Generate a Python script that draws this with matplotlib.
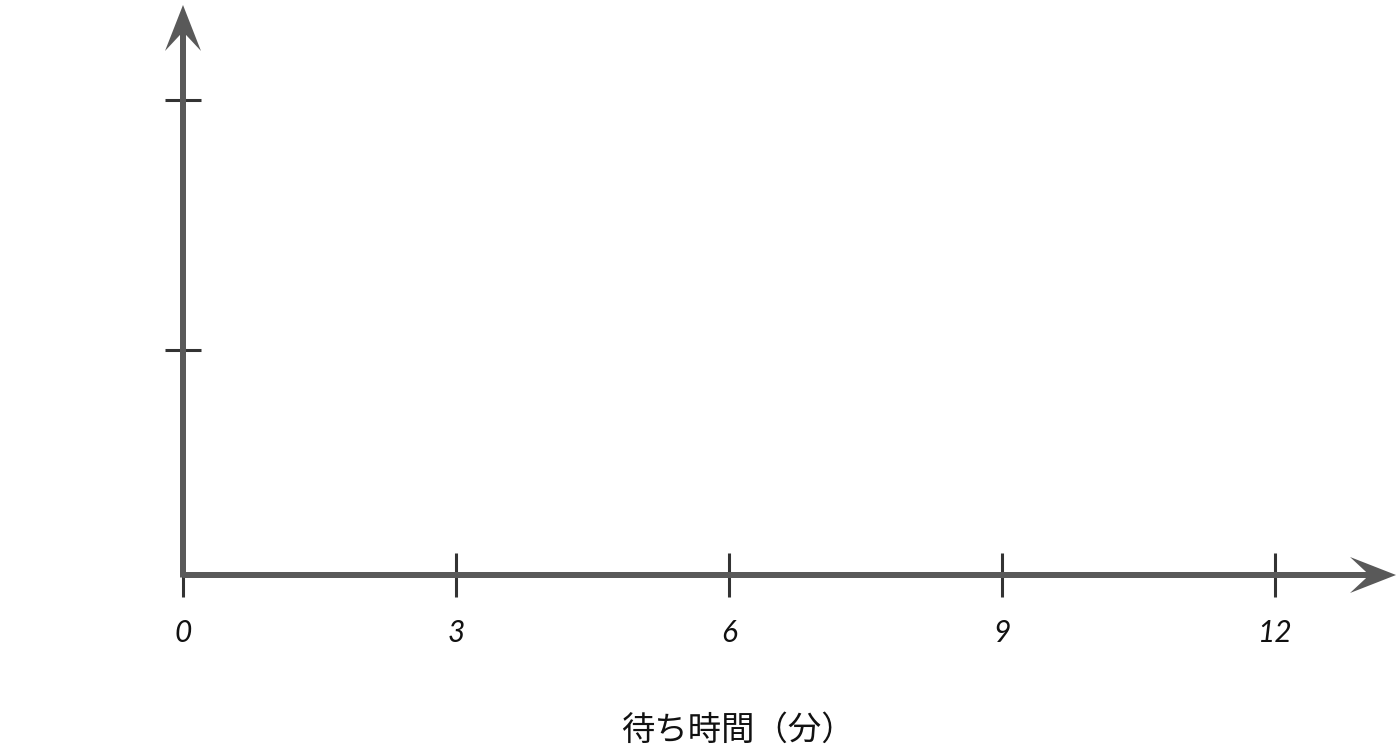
import matplotlib.pyplot as plt

# axis values
x_ticks = [0, 3, 6, 9, 12]
x_tick_labels = ["0", "3", "6", "9", "12"]
y_ticks = [0.9, 1.9]
x_label = "待ち時間（分）"

AXIS_COLOR = "#595959"
TICK_COLOR = "#333333"

fig = plt.figure(figsize=(13.98, 7.52), dpi=100)
ax = fig.add_axes([0, 0, 1, 1])

# 91 px per x unit, 250 px per y unit, origin at (183, 575) px
ax.set_xlim(-183 / 91, 1215 / 91)
ax.set_ylim(-177 / 250, 575 / 250)

# axis lines with notched arrow heads
ax.arrow(0, 0, 13.33, 0, width=6 / 250, head_width=36 / 250, head_length=46 / 91,
         overhang=0.35, length_includes_head=True, color=AXIS_COLOR, lw=0, zorder=2)
ax.arrow(0, -0.01, 0, 2.29, width=6 / 91, head_width=36 / 91, head_length=46 / 250,
         overhang=0.35, length_includes_head=True, color=AXIS_COLOR, lw=0, zorder=2)

for side in ["top", "right"]:
    ax.spines[side].set_visible(False)
for side in ["bottom", "left"]:
    ax.spines[side].set_position(("data", 0))
    ax.spines[side].set_color("none")

ax.set_xticks(x_ticks)
ax.set_xticklabels(x_tick_labels, fontfamily="Lato", fontstyle="italic", fontsize=21.5)
ax.set_yticks(y_ticks)
ax.set_yticklabels([])
ax.tick_params(axis="x", direction="inout", length=31.5, width=2.2, color=TICK_COLOR,
               pad=16, labelcolor="#111111")
ax.tick_params(axis="y", direction="inout", length=26, width=2.2, color=TICK_COLOR)
for t in ax.xaxis.get_major_ticks() + ax.yaxis.get_major_ticks():
    t.tick1line.set_zorder(3)

ax.text(6.1, -0.62, x_label, ha="center", va="center", fontsize=24,
        fontfamily=["Noto Sans CJK JP", "DejaVu Sans"], color="#111111")

fig.savefig("out.png", dpi=100, facecolor="white")
